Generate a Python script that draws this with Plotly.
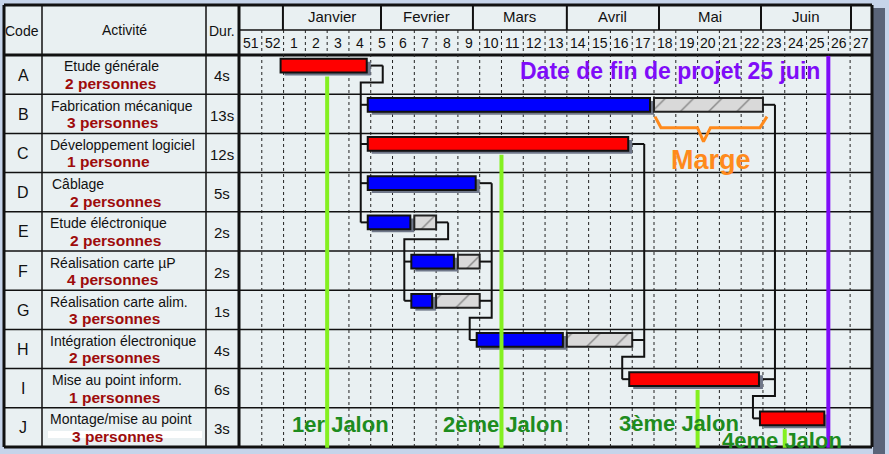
import plotly.graph_objects as go

# ---------------- data ----------------
codes = ["A", "B", "C", "D", "E", "F", "G", "H", "I", "J"]
activities = ["Etude générale", "Fabrication mécanique", "Développement logiciel", "Câblage",
              "Etude éléctronique", "Réalisation carte µP", "Réalisation carte alim.",
              "Intégration électronique", "Mise au point inform.", "Montage/mise au point"]
staff = ["2 personnes", "3 personnes", "1 personne", "2 personnes", "2 personnes",
         "4 personnes", "3 personnes", "2 personnes", "1 personnes", "3 personnes"]
durations = [4, 13, 12, 5, 2, 2, 1, 4, 6, 3]          # weeks
start_weeks = [1, 5, 5, 5, 5, 7, 7, 10, 17, 23]       # week of year
margin_weeks = [0, 5, 0, 0, 1, 1, 2, 3, 0, 0]         # slack (hatched)
bar_colors = ["#ff0000", "#0000ff", "#ff0000", "#0000ff", "#0000ff",
              "#0000ff", "#0000ff", "#0000ff", "#ff0000", "#ff0000"]
predecessors = {"B": ["A"], "C": ["A"], "D": ["A"], "E": ["A"], "F": ["E"], "G": ["E"],
                "H": ["D", "F", "G"], "I": ["C", "H"], "J": ["B", "I"]}
week_labels = [51, 52] + list(range(1, 28))
months = ["Janvier", "Fevrier", "Mars", "Avril", "Mai", "Juin"]
month_bounds = [1.97, 6.47, 10.69, 15.0, 19.23, 23.91, 28.04]   # in week-column units
milestone_names = ["1er Jalon", "2ème Jalon", "3ème Jalon", "4eme Jalon"]
milestone_weeks = [2, 10, 19, 23]
milestone_rows = ["A", "C", "I", "J"]
end_week = 25
end_text = "Date de fin de projet 25 juin"

# ---------------- geometry helpers ----------------
W_PX, H_PX = 889, 454
COL_PX, X0_PX = 21.79, 240.0
ROW_PX, Y0_PX = 39.2, 55.0
FONT = "Liberation Sans, Arial, sans-serif"

def ux(px): return (px - X0_PX) / COL_PX
def vy(py): return (py - Y0_PX) / ROW_PX
def dxu(px): return px / COL_PX
def dyu(py): return py / ROW_PX
def PX(px): return px / W_PX
def PY(py): return 1 - py / H_PX
def week_pos(w): return w - 51 if w >= 51 else w + 1

n = len(codes)
starts = [week_pos(w) for w in start_weeks]
ends = [s + d for s, d in zip(starts, durations)]
mends = [e + m for e, m in zip(ends, margin_weeks)]
bar_y = [i + 0.27 for i in range(n)]
BAR_W = 0.35

fig = go.Figure()

# shadows
fig.add_trace(go.Bar(orientation="h", y=[y + dyu(3) for y in bar_y],
                     base=[s - dxu(3) + dxu(4) for s in starts],
                     x=[d - dxu(1) for d in durations], width=[BAR_W] * n,
                     marker=dict(color="#6f7789", line=dict(width=0)), hoverinfo="skip"))
# main bars
fig.add_trace(go.Bar(orientation="h", y=bar_y, base=[s - dxu(3) for s in starts],
                     x=[d - dxu(1) for d in durations], width=[BAR_W] * n,
                     marker=dict(color=bar_colors, line=dict(color="#111", width=2)), hoverinfo="skip"))
# margin bars
mi = [i for i in range(n) if margin_weeks[i] > 0]
fig.add_trace(go.Bar(orientation="h", y=[bar_y[i] for i in mi], base=[ends[i] for i in mi],
                     x=[margin_weeks[i] for i in mi], width=[BAR_W] * len(mi),
                     marker=dict(color="#d9d9d9",
                                 pattern=dict(shape="/", fgcolor="#333", bgcolor="#d9d9d9",
                                              size=20, solidity=0.07),
                                 line=dict(color="#222", width=2)), hoverinfo="skip"))

# connectors
groups = {}
for succ, preds in predecessors.items():
    groups.setdefault(tuple(preds), []).append(succ)
cx, cy = [], []
for preds, succs in groups.items():
    pi = [codes.index(p) for p in preds]
    si = [codes.index(s) for s in succs]
    xv = max(mends[i] for i in pi) + dxu(12)
    yt = min(si) - 0.3
    xl = min(starts[i] for i in si) - dxu(10)
    for i in pi:
        xe = mends[i] if margin_weeks[i] > 0 else ends[i]
        cx += [xe, xv, None]; cy += [bar_y[i], bar_y[i], None]
    cx += [xv, xv, xl, xl, None]
    cy += [min(bar_y[i] for i in pi), yt, yt, max(bar_y[i] for i in si), None]
    for i in si:
        cx += [xl, starts[i] - dxu(3), None]; cy += [bar_y[i], bar_y[i], None]
fig.add_trace(go.Scatter(x=cx, y=cy, mode="lines", line=dict(color="#111", width=2), hoverinfo="skip"))

# milestones
for w, r in zip(milestone_weeks, milestone_rows):
    i = codes.index(r)
    xm = week_pos(w) + 1
    fig.add_trace(go.Scatter(x=[xm, xm], y=[bar_y[i] + BAR_W / 2 + dyu(4), 10.02], mode="lines",
                             line=dict(color="#84f020", width=4), hoverinfo="skip"))
xe_end = week_pos(end_week) + 1
fig.add_trace(go.Scatter(x=[xe_end, xe_end], y=[vy(56), 10.02], mode="lines",
                         line=dict(color="#7f0cf8", width=4), hoverinfo="skip"))

# brace under B margin
bi = codes.index("B")
b0, b1 = ends[bi], mends[bi]
yb = bar_y[bi] + BAR_W / 2 + dyu(5)
mid = (b0 + b1) / 2 - dxu(5)
fig.add_trace(go.Scatter(
    x=[b0 + dxu(1), b0 + dxu(7), mid - dxu(6), mid, mid + dxu(7), b1 - dxu(3), b1 + dxu(4)],
    y=[yb, yb + dyu(11), yb + dyu(11), yb + dyu(25), yb + dyu(11), yb + dyu(11), yb],
    mode="lines", line=dict(color="#ff8a1c", width=3), hoverinfo="skip"))

# ---------------- table shapes ----------------
shapes = []
def rect(x0, y0, x1, y1, fill):
    shapes.append(dict(type="rect", xref="paper", yref="paper", x0=PX(x0), x1=PX(x1),
                       y0=PY(y1), y1=PY(y0), fillcolor=fill, line=dict(width=0), layer="below"))
def pline(x0, y0, x1, y1, w, color="#111"):
    shapes.append(dict(type="line", xref="paper", yref="paper", x0=PX(x0), x1=PX(x1),
                       y0=PY(y0), y1=PY(y1), line=dict(color=color, width=w), layer="below"))

rect(873, 8, 885, 454, "#5a6479")
rect(4, 5, 872, 447, "#e9f0f2")
rect(48, 431, 202, 438, "#ffffff")

# dashed week lines
for k in range(1, len(week_labels)):
    shapes.append(dict(type="line", xref="x", yref="y", x0=k, x1=k, y0=vy(30), y1=10,
                       line=dict(color="#222", width=1, dash="3px,3px"), layer="below"))
# row separators
for i in range(1, n):
    pline(4, Y0_PX + i * ROW_PX, 872, Y0_PX + i * ROW_PX, 1.5)
pline(239, 30, 872, 30, 1.5)
pline(4, 55, 872, 55, 3)
for xb in [42, 206]:
    pline(xb, 5, xb, 447, 1.5)
for mb in month_bounds:
    xp = X0_PX + mb * COL_PX
    pline(xp, 5, xp, 30, 2)
pline(239, 5, 239, 447, 3)
# outer border
pline(4, 5, 872, 5, 3); pline(4, 447, 872, 447, 3)
pline(4, 5, 4, 447, 3); pline(872, 5, 872, 447, 3)

# ---------------- texts ----------------
ann = []
def txt(x, y, s, size, color="#111", bold=False, anchor="center"):
    ann.append(dict(x=PX(x), y=PY(y), xref="paper", yref="paper",
                    text=f"<b>{s}</b>" if bold else s, showarrow=False,
                    xanchor=anchor, yanchor="middle",
                    font=dict(family=FONT, size=size, color=color)))

txt(22, 31, "Code", 14)
txt(124, 30, "Activité", 14)
txt(222, 31, "Dur.", 14)
for m, a, b in zip(months, month_bounds[:-1], month_bounds[1:]):
    ann.append(dict(x=(a + b) / 2, y=PY(17), xref="x", yref="paper", text=m, showarrow=False,
                    xanchor="center", yanchor="middle", font=dict(family=FONT, size=15, color="#111")))
for k, wl in enumerate(week_labels):
    ann.append(dict(x=k + 0.5, y=PY(43), xref="x", yref="paper", text=str(wl), showarrow=False,
                    xanchor="center", yanchor="middle", font=dict(family=FONT, size=14, color="#111")))

name_left = [62, 49, 48, 50, 48, 48, 48, 48, 50, 48]
staff_left = [63, 65, 65, 68, 68, 65, 67, 67, 67, 70]
for i in range(n):
    t = Y0_PX + i * ROW_PX
    txt(23, t + 20, codes[i], 16)
    txt(name_left[i], t + 11.5, activities[i], 14, anchor="left")
    txt(staff_left[i], t + 28.5, staff[i], 15.5, color="#9e0b0b", bold=True, anchor="left")
    txt(222, t + 21, f"{durations[i]}s", 15)

txt(670, 71, end_text, 23, color="#7f0cf8", bold=True)
txt(711, 160, "Marge", 27, color="#ff8a1c", bold=True)
label_pos = [(340, 424), (503, 424), (679, 423), (782, 440)]
for name, (lx, ly) in zip(milestone_names, label_pos):
    txt(lx, ly, name, 22, color="#1e8c1e", bold=True)

fig.update_layout(
    width=W_PX, height=H_PX, autosize=False, margin=dict(l=0, r=0, t=0, b=0),
    paper_bgcolor="#c6d4ea", plot_bgcolor="rgba(0,0,0,0)",
    barmode="overlay", showlegend=False, shapes=shapes, annotations=ann,
    xaxis=dict(range=[ux(0), ux(W_PX)], visible=False, fixedrange=True),
    yaxis=dict(range=[vy(H_PX), vy(0)], visible=False, fixedrange=True),
)
fig.write_html("out.html")
